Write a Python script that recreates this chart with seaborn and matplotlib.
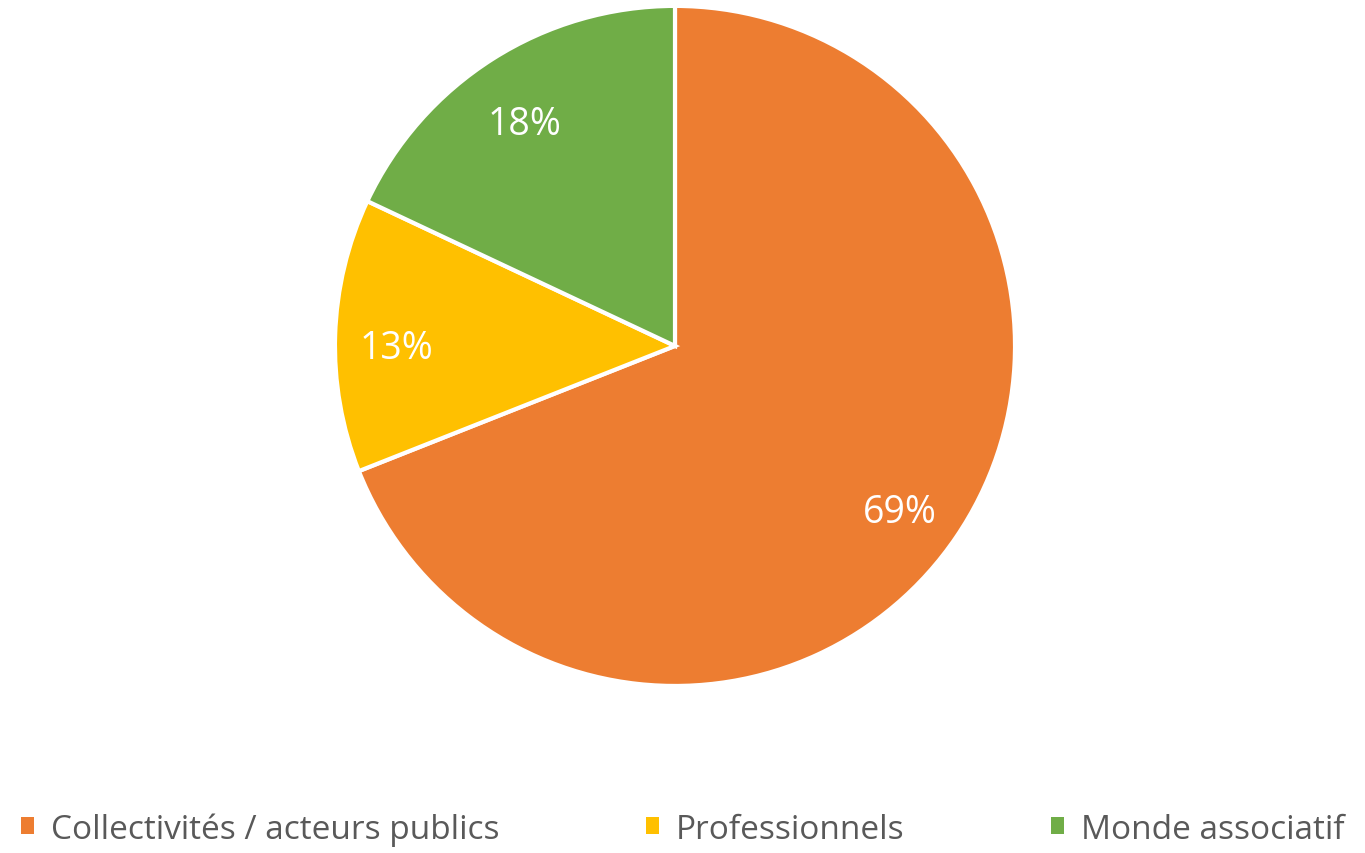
import matplotlib.pyplot as plt
import matplotlib.transforms as mtransforms
import seaborn as sns
from matplotlib.patches import Patch

# Data
categories = ["Collectivités / acteurs publics", "Professionnels", "Monde associatif"]
shares = [69, 13, 18]
colors = ["#ED7D31", "#FFC000", "#70AD47"]

sns.set_theme(style="white")
plt.rcParams["font.family"] = ["Open Sans", "DejaVu Sans"]

fig = plt.figure(figsize=(13.65, 8.54), dpi=100)
ax = fig.add_axes([0.2454, 0.1956, 0.4982, 0.7963])

wedges, texts, autotexts = ax.pie(
    shares,
    colors=colors,
    startangle=90,
    counterclock=False,
    autopct="%d%%",
    pctdistance=0.81,
    wedgeprops=dict(edgecolor="white", linewidth=3),
    textprops=dict(color="white", fontsize=27),
)
# nudge labels down a bit, like the original
shift = mtransforms.ScaledTranslation(-0.03, -0.11, fig.dpi_scale_trans)
for t in autotexts:
    t.set_transform(t.get_transform() + shift)

ax.set_xlim(-1, 1)
ax.set_ylim(-1, 1)
ax.set_aspect("equal")

# Legend
handles = [Patch(facecolor=c, edgecolor="none") for c in colors]
fig.legend(
    handles,
    categories,
    loc="center",
    bbox_to_anchor=(0.5, 1 - 830 / 854),
    ncol=3,
    frameon=False,
    fontsize=24,
    labelcolor="#595959",
    handlelength=0.4,
    handleheight=0.4,
    handletextpad=0.5,
    columnspacing=4.4,
)

plt.savefig("out.png", dpi=100)
